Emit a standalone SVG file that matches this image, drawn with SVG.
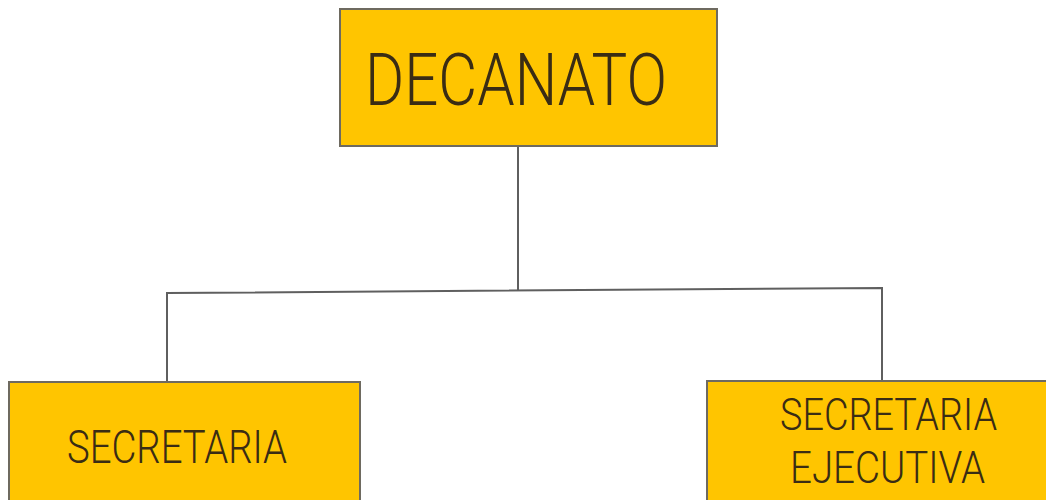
<svg xmlns="http://www.w3.org/2000/svg" width="1046" height="500" viewBox="0 0 1046 500">
  <style>
    .box { fill: #FFC500; stroke: #6e6a60; stroke-width: 2; }
    .lbl { font-family: Roboto, "Liberation Sans", Arial, sans-serif; font-weight: 300; fill: #3a2c14; }
    .wire { fill: none; stroke: #5f5f5f; stroke-width: 2; }
  </style>
  <rect width="1046" height="500" fill="#ffffff"/>

  <!-- connectors -->
  <g id="connectors">
    <path class="wire" d="M518 147 V291"/>
    <path class="wire" d="M167 382 V293 L882 288 V381"/>
  </g>

  <!-- top node -->
  <g id="decanato">
    <rect class="box" x="340" y="9" width="377" height="137"/>
    <text class="lbl" x="365" y="105" font-size="73" textLength="302" lengthAdjust="spacingAndGlyphs">DECANATO</text>
  </g>

  <!-- left child -->
  <g id="secretaria">
    <rect class="box" x="9" y="382" width="351" height="130"/>
    <text class="lbl" x="67" y="463" font-size="46" textLength="220" lengthAdjust="spacingAndGlyphs">SECRETARIA</text>
  </g>

  <!-- right child -->
  <g id="secretaria-ejecutiva">
    <rect class="box" x="707" y="381" width="350" height="130"/>
    <text class="lbl" x="780" y="430" font-size="45" textLength="217" lengthAdjust="spacingAndGlyphs">SECRETARIA</text>
    <text class="lbl" x="790" y="483" font-size="45" textLength="195" lengthAdjust="spacingAndGlyphs">EJECUTIVA</text>
  </g>
</svg>
